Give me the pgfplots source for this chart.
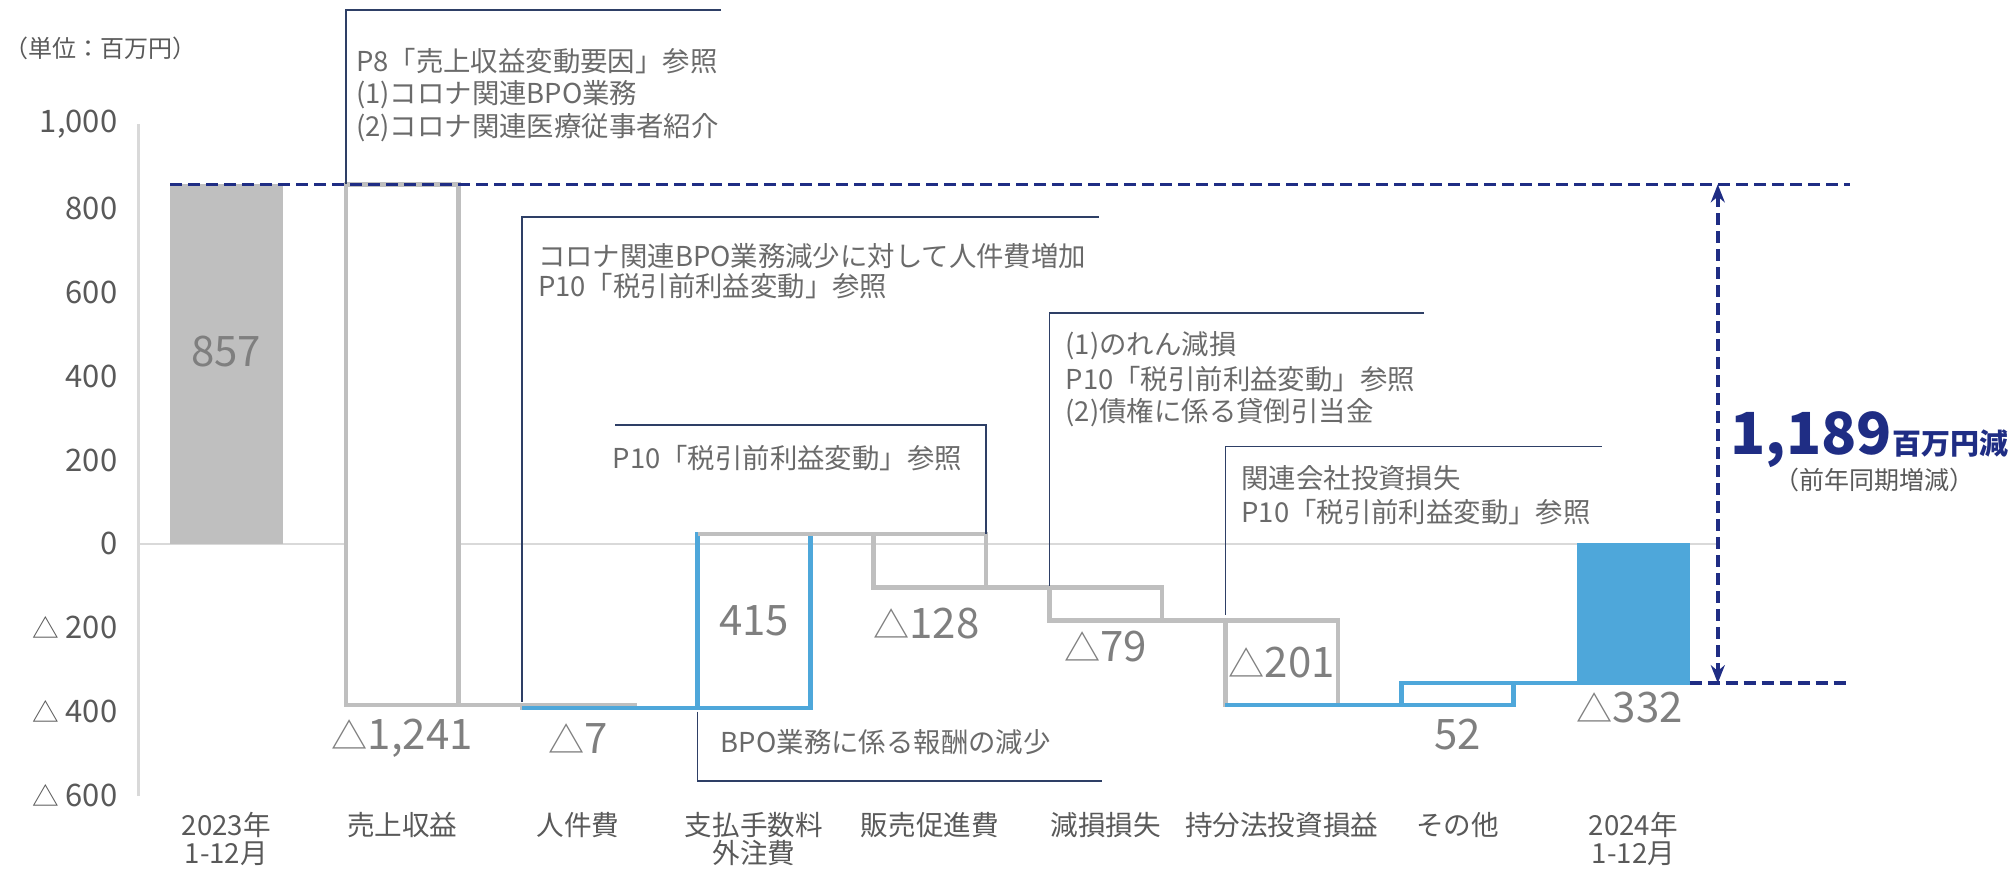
\documentclass[border=0pt]{standalone}
\usepackage{fontspec}
\setmainfont{Noto Sans CJK JP}
\setsansfont{Noto Sans CJK JP}
\usepackage{graphicx}
\usepackage{pgfplots}
\pgfplotsset{compat=1.18}
\usetikzlibrary{arrows.meta}

\definecolor{barGray}{HTML}{BFBFBF}
\definecolor{barBlue}{HTML}{4EA7DA}
\definecolor{navy}{HTML}{1F2D84}
\definecolor{noteLine}{HTML}{2E3F66}
\definecolor{txtGray}{HTML}{6A6A6A}
\definecolor{tickGray}{HTML}{595959}
\definecolor{lblGray}{HTML}{7F7F7F}
\definecolor{axGray}{HTML}{D9D9D9}
\newcommand{\tri}{\scalebox{0.86}{△}}

\begin{document}
\begin{tikzpicture}[x=1pt,y=1pt]
\useasboundingbox (0,0) rectangle (1005,435);
\begin{axis}[
  at={(69.2pt,37.2pt)}, anchor=south west,
  scale only axis, width=789.7pt, height=335.6pt,
  xmin=-0.50, xmax=8.48, ymin=-600, ymax=1000,
  clip=false, no markers,
  axis lines*=left,
  x axis line style={draw=none},
  y axis line style={draw=axGray, line width=1.2pt},
  tick style={draw=none},
  xtick={0,...,8},
  xticklabels={{2023年\\1-12月},売上収益,人件費,{支払手数料\\外注費},販売促進費,減損損失,持分法投資損益,その他,{2024年\\1-12月}},
  xticklabel style={align=center, font=\fontsize{13.8}{13.6}\selectfont, text=tickGray, yshift=-5pt},
  ytick={-600,-400,-200,0,200,400,600,800,1000},
  yticklabels={\tri\ 600,\tri\ 400,\tri\ 200,0,200,400,600,800,{1,000}},
  yticklabel style={font=\fontsize{15.5}{17}\selectfont, text=tickGray, xshift=-7pt},
]
% zero line
\draw[axGray, line width=1.2pt] (axis cs:-0.50,0) -- (axis cs:8.48,0);

% bars
\addplot[fill=barGray, draw=barGray, line width=0.5pt] coordinates {(-0.32,0) (0.32,0) (0.32,857) (-0.32,857)} -- cycle;
\addplot[draw=barGray, fill=white, line width=2.3pt] coordinates {(0.68,857) (1.32,857) (1.32,-384) (0.68,-384)} -- cycle;
\addplot[draw=barGray, line width=2.3pt] coordinates {(1.68,-384) (2.32,-384) (2.32,-391) (1.68,-391)} -- cycle;
\addplot[draw=barBlue, line width=2.3pt] coordinates {(2.68,-391) (3.32,-391) (3.32,24) (2.68,24)} -- cycle;
\addplot[draw=barGray, line width=2.3pt] coordinates {(3.68,24) (4.32,24) (4.32,-104) (3.68,-104)} -- cycle;
\addplot[draw=barGray, line width=2.3pt] coordinates {(4.68,-104) (5.32,-104) (5.32,-183) (4.68,-183)} -- cycle;
\addplot[draw=barGray, line width=2.3pt] coordinates {(5.68,-183) (6.32,-183) (6.32,-384) (5.68,-384)} -- cycle;
\addplot[draw=barBlue, line width=2.3pt] coordinates {(6.68,-384) (7.32,-384) (7.32,-332) (6.68,-332)} -- cycle;
\addplot[fill=barBlue, draw=barBlue, line width=0.5pt] coordinates {(7.68,0) (8.32,0) (8.32,-332) (7.68,-332)} -- cycle;

% connectors
\addplot[draw=barGray, line width=2.3pt] coordinates {(0.68,-384) (2.32,-384)};
\addplot[draw=barBlue, line width=2.3pt] coordinates {(1.68,-391) (3.32,-391)};
\addplot[draw=barGray, line width=2.3pt] coordinates {(2.68,24) (4.32,24)};
\addplot[draw=barGray, line width=2.3pt] coordinates {(3.68,-104) (5.32,-104)};
\addplot[draw=barGray, line width=2.3pt] coordinates {(4.68,-183) (6.32,-183)};
\addplot[draw=barBlue, line width=2.3pt] coordinates {(5.68,-384) (7.32,-384)};
\addplot[draw=barBlue, line width=2.3pt] coordinates {(6.68,-332) (8.32,-332)};

% dashed reference lines
\addplot[draw=navy, line width=1.8pt, dash pattern=on 6pt off 3pt] coordinates {(-0.32,857) (9.23,857)};
\addplot[draw=navy, line width=1.8pt, dash pattern=on 6pt off 3pt] coordinates {(8.32,-332) (9.23,-332)};
\addplot[draw=navy, line width=1.8pt, dash pattern=on 6pt off 3pt, {Stealth[length=9pt,width=7pt]}-{Stealth[length=9pt,width=7pt]}] coordinates {(8.48,857) (8.48,-332)};

% annotation frames
\draw[noteLine, line width=0.8pt] (axis cs:2.813,1273) -- (axis cs:0.68,1273) -- (axis cs:0.68,857);
\draw[noteLine, line width=0.8pt] (axis cs:4.96,779) -- (axis cs:1.68,779) -- (axis cs:1.68,-378);
\draw[noteLine, line width=0.8pt] (axis cs:2.21,284) -- (axis cs:4.32,284) -- (axis cs:4.32,24);
\draw[noteLine, line width=0.8pt] (axis cs:6.81,550) -- (axis cs:4.68,550) -- (axis cs:4.68,-100);
\draw[noteLine, line width=0.8pt] (axis cs:7.82,232) -- (axis cs:5.68,232) -- (axis cs:5.68,-170);
\draw[noteLine, line width=0.8pt] (axis cs:2.68,-400) -- (axis cs:2.68,-565) -- (axis cs:4.98,-565);

% annotation texts
\begin{scope}[every node/.style={font=\fontsize{13.7}{16}\selectfont, text=txtGray, inner sep=0pt}]
\node[anchor=west] at (axis cs:0.736,1151) {P8「売上収益変動要因」参照};
\node[anchor=west] at (axis cs:0.736,1072) {(1)コロナ関連BPO業務};
\node[anchor=west] at (axis cs:0.736,992) {(2)コロナ関連医療従事者紹介};
\node[anchor=west] at (axis cs:1.77,687) {コロナ関連BPO業務減少に対して人件費増加};
\node[anchor=west] at (axis cs:1.77,614) {P10「税引前利益変動」参照};
\node at (axis cs:3.19,205) {P10「税引前利益変動」参照};
\node[anchor=west] at (axis cs:4.77,473) {(1)のれん減損};
\node[anchor=west] at (axis cs:4.77,394) {P10「税引前利益変動」参照};
\node[anchor=west] at (axis cs:4.77,314) {(2)債権に係る貸倒引当金};
\node[anchor=west] at (axis cs:5.77,156) {関連会社投資損失};
\node[anchor=west] at (axis cs:5.77,76) {P10「税引前利益変動」参照};
\node[anchor=west] at (axis cs:2.81,-473) {BPO業務に係る報酬の減少};
\end{scope}

% unit label
\node[font=\fontsize{12}{14}\selectfont, text=tickGray, inner sep=0pt] at (axis cs:-0.714,1182) {（単位：百万円）};

% data labels
\begin{scope}[every node/.style={font=\fontsize{21}{24}\selectfont, text=lblGray, inner sep=0pt}]
\node at (axis cs:0,458) {857};
\node at (axis cs:1,-464) {\tri1,241};
\node at (axis cs:2,-464) {\tri7};
\node at (axis cs:3,-183) {415};
\node at (axis cs:3.98,-189) {\tri128};
\node at (axis cs:5,-244) {\tri79};
\node at (axis cs:6,-284) {\tri201};
\node at (axis cs:7,-455) {52};
\node at (axis cs:7.98,-391) {\tri332};
\end{scope}

% total change label
\node[anchor=base west, inner sep=0pt, text=navy, font=\fontsize{29}{32}\selectfont\bfseries] (big) at (axis cs:8.55,214) {1,189};
\node[anchor=base west, inner sep=0pt, text=navy, font=\fontsize{14.5}{16}\selectfont\bfseries] at (big.base east) {百万円減};
\node[inner sep=0pt, text=tickGray, font=\fontsize{12.5}{14}\selectfont] at (axis cs:9.37,153) {（前年同期増減）};
\end{axis}
\end{tikzpicture}
\end{document}
